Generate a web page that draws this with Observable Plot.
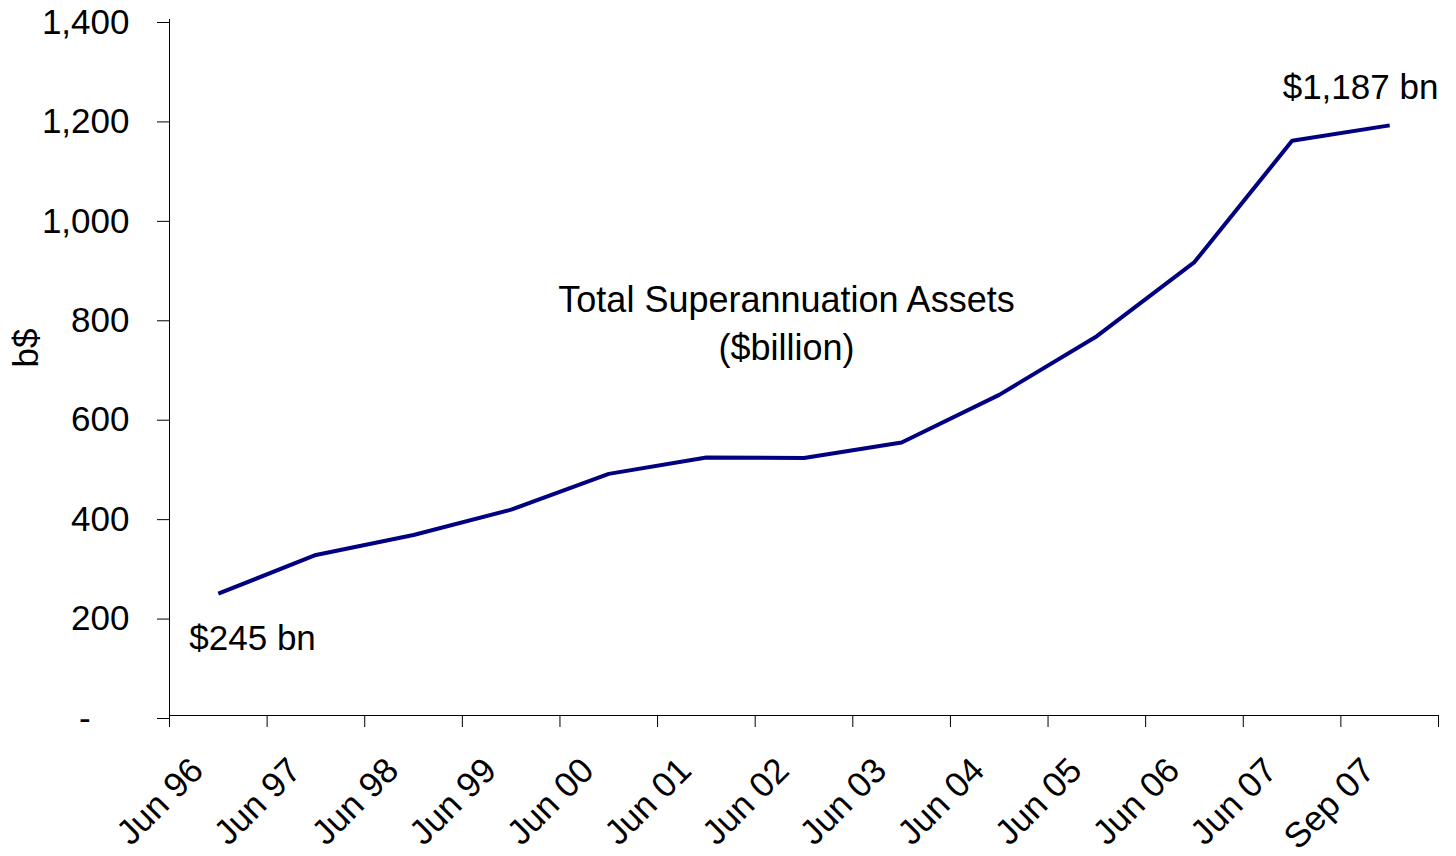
<!DOCTYPE html>
<html>
<head>
<meta charset="utf-8">
<script src="https://cdn.jsdelivr.net/npm/d3@7"></script>
<script src="https://cdn.jsdelivr.net/npm/@observablehq/plot@0.6"></script>
<style>
  html, body { margin: 0; padding: 0; background: #fff; }
  #chart svg { display: block; }
</style>
</head>
<body>
<div id="chart"></div>
<script>
// ---- data ----
const categories = ["Jun 96", "Jun 97", "Jun 98", "Jun 99", "Jun 00", "Jun 01", "Jun 02",
                    "Jun 03", "Jun 04", "Jun 05", "Jun 06", "Jun 07", "Sep 07"];
const assets = [245, 323, 363, 414, 486, 519, 518, 549, 645, 763, 912, 1156, 1187];
const yTicks = [0, 200, 400, 600, 800, 1000, 1200, 1400];
const yLabel = "b$";
const titleText = "Total Superannuation Assets\n($billion)";
const startLabel = "$245 bn";
const endLabel = "$1,187 bn";

// ---- derived tables ----
const rows = categories.map((c, i) => ({cat: c, pos: i + 0.5, value: assets[i]}));
const boundaries = d3.range(categories.length + 1);
const first = rows[0];
const last = rows[rows.length - 1];

const FONT = "'Liberation Sans', Arial, Helvetica, sans-serif";
const FS = 35;

const chart = Plot.plot({
  width: 1456,
  height: 856,
  marginLeft: 169,
  marginRight: 18,
  marginTop: 19,
  marginBottom: 141,
  style: {fontFamily: FONT, fontSize: FS + "px", color: "#000", background: "#fff", overflow: "visible"},
  x: {type: "linear", domain: [0, categories.length], axis: null},
  y: {domain: [0, 1400], axis: null},
  marks: [
    // y axis with ticks and labels
    Plot.axisY({
      ticks: yTicks,
      tickSize: 12,
      tickPadding: 28,
      tickFormat: d => d === 0 ? "-\u2007\u2007" : d3.format(",")(d),
      fontSize: FS,
      dy: 3,
      label: null,
      stroke: "#000"
    }),
    // y axis line
    Plot.ruleX([0], {y1: 0, y2: 1400, stroke: "#000"}),
    // x axis line
    Plot.ruleY([0], {stroke: "#000"}),
    // x tick marks at category boundaries
    Plot.ruleX(boundaries, {x: d => d, y1: 0, y2: 0, insetBottom: -12, stroke: "#000"}),
    // x category labels
    Plot.text(rows, {
      x: "pos",
      frameAnchor: "bottom",
      text: "cat",
      rotate: -45,
      textAnchor: "end",
      fontSize: FS,
      dx: -13,
      dy: 57
    }),
    // y axis title
    Plot.text([yLabel], {
      frameAnchor: "left",
      text: d => d,
      rotate: -90,
      fontSize: FS,
      dx: -143
    }),
    // series line
    Plot.line(rows, {x: "pos", y: "value", stroke: "#000080", strokeWidth: 4, strokeLinejoin: "miter", strokeLinecap: "butt"}),
    // chart annotation
    Plot.text([titleText], {
      frameAnchor: "top",
      text: d => d,
      textAnchor: "middle",
      lineAnchor: "top",
      lineHeight: 1.33,
      fontSize: 36,
      dx: -17.5,
      dy: 259
    }),
    // start / end labels
    Plot.text([first], {x: "pos", y: "value", text: () => startLabel, textAnchor: "start", fontSize: FS, dx: -29, dy: 45}),
    Plot.text([last], {x: "pos", y: "value", text: () => endLabel, textAnchor: "start", fontSize: FS, dx: -107, dy: -38})
  ]
});

document.getElementById("chart").appendChild(chart);
</script>
</body>
</html>
